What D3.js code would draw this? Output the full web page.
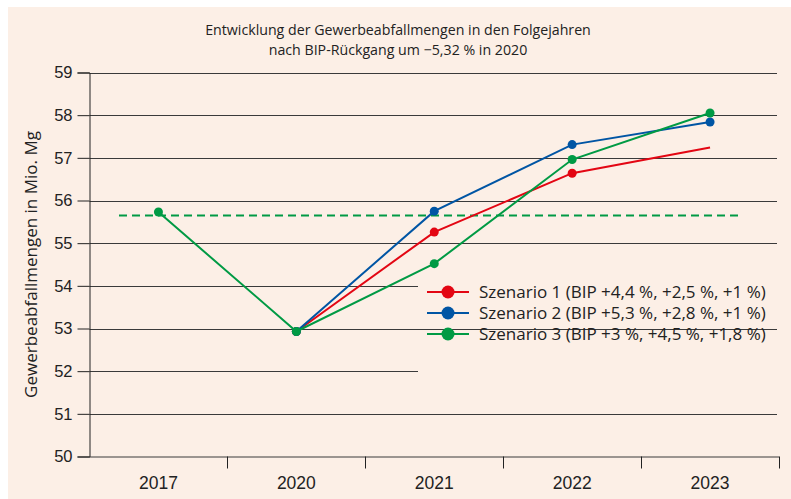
<!DOCTYPE html>
<html>
<head>
<meta charset="utf-8">
<script src="https://cdn.jsdelivr.net/npm/d3@7"></script>
<style>
  body { margin: 0; background: #fff; }
  svg { display: block; font-family: "Open Sans", "Noto Sans", sans-serif; }
</style>
</head>
<body>
<div id="chart"></div>
<script>
// data
const years = ['2017', '2020', '2021', '2022', '2023'];
const yTicks = [50, 51, 52, 53, 54, 55, 56, 57, 58, 59];
const szenario1 = [null, 52.93, 55.26, 56.64, 57.24];
const szenario2 = [null, 52.93, 55.75, 57.31, 57.84];
const szenario3 = [55.73, 52.93, 54.52, 56.96, 58.05];
const baseline = 55.65;
const seriesNames = [
  'Szenario 1 (BIP +4,4 %, +2,5 %, +1 %)',
  'Szenario 2 (BIP +5,3 %, +2,8 %, +1 %)',
  'Szenario 3 (BIP +3 %, +4,5 %, +1,8 %)'
];
const seriesColors = ['#e30613', '#0055a4', '#009a44'];
const seriesMarkers = [[false, true, true, true, false], [false, true, true, true, true], [true, true, true, true, true]];

const width = 791, height = 499;
const plotLeft = 89.5, plotRight = 779, plotTop = 72.5, plotBottom = 456.5;

const svg = d3.select('#chart').append('svg')
  .attr('width', width)
  .attr('height', height);

svg.append('rect')
  .attr('x', 8).attr('y', 7)
  .attr('width', width - 8).attr('height', height - 7)
  .attr('fill', '#fcefe6');

const x = d3.scaleBand().domain(years).range([plotLeft, plotRight]);
const y = d3.scaleLinear().domain([50, 59]).range([plotBottom, plotTop]);

// title
svg.append('text')
  .attr('x', 398).attr('y', 35)
  .attr('text-anchor', 'middle')
  .attr('font-size', 14.2).attr('fill', '#222')
  .text('Entwicklung der Gewerbeabfallmengen in den Folgejahren');
svg.append('text')
  .attr('x', 398).attr('y', 55)
  .attr('text-anchor', 'middle')
  .attr('font-size', 14.2).attr('fill', '#222')
  .text('nach BIP-R\u00fcckgang um \u22125,32 % in 2020');

// gridlines (some shortened where the legend sits)
const shortLines = [52, 54];
svg.append('g').selectAll('line')
  .data(yTicks.filter(d => d > 50))
  .enter().append('line')
  .attr('x1', plotLeft)
  .attr('x2', d => shortLines.includes(d) ? 418 : 777)
  .attr('y1', d => Math.round(y(d)) + 0.5)
  .attr('y2', d => Math.round(y(d)) + 0.5)
  .attr('stroke', '#3a3a3a')
  .attr('stroke-width', 1);

// y axis
const yAxis = svg.append('g')
  .attr('transform', `translate(${plotLeft},0)`)
  .call(d3.axisLeft(y).tickValues(yTicks).tickSize(12).tickPadding(5).tickFormat(d3.format('d')));
yAxis.select('.domain').attr('stroke', '#222');
yAxis.selectAll('.tick line').attr('stroke', '#222');
yAxis.selectAll('text').attr('font-size', 16.5).attr('fill', '#222').attr('font-family', null);

// x axis
const xAxis = svg.append('g')
  .attr('transform', `translate(0,${plotBottom})`)
  .call(d3.axisBottom(x).tickSize(0).tickPadding(20));
xAxis.select('.domain').attr('stroke', '#3a3a3a').attr('d', `M${plotLeft},0.5H${plotRight}`);
xAxis.selectAll('text').attr('font-size', 17.5).attr('fill', '#222').attr('font-family', null);
svg.append('g').selectAll('line')
  .data(years)
  .enter().append('line')
  .attr('x1', d => Math.round(x(d) + x.bandwidth()) + 0.5)
  .attr('x2', d => Math.round(x(d) + x.bandwidth()) + 0.5)
  .attr('y1', plotBottom).attr('y2', plotBottom + 12)
  .attr('stroke', '#222');

// y label
svg.append('text')
  .attr('transform', `translate(37,${(plotTop + plotBottom) / 2}) rotate(-90)`)
  .attr('text-anchor', 'middle')
  .attr('font-size', 17).attr('fill', '#222')
  .text('Gewerbeabfallmengen in Mio. Mg');

// dashed reference line
svg.append('line')
  .attr('x1', 119).attr('x2', 740)
  .attr('y1', y(baseline)).attr('y2', y(baseline))
  .attr('stroke', '#009a44')
  .attr('stroke-width', 2)
  .attr('stroke-dasharray', '8,5');

const cx = d => x(d) + x.bandwidth() / 2;
const line = d3.line()
  .defined(d => d[1] != null)
  .x(d => cx(d[0]))
  .y(d => y(d[1]));

[szenario1, szenario2, szenario3].forEach((vals, k) => {
  const pts = years.map((yr, i) => [yr, vals[i], seriesMarkers[k][i]]);
  svg.append('path')
    .datum(pts)
    .attr('d', line)
    .attr('fill', 'none')
    .attr('stroke', seriesColors[k])
    .attr('stroke-width', 2);
  svg.append('g').selectAll('circle')
    .data(pts.filter(p => p[1] != null && p[2]))
    .enter().append('circle')
    .attr('cx', p => cx(p[0]))
    .attr('cy', p => y(p[1]))
    .attr('r', 4.5)
    .attr('fill', seriesColors[k]);
});

// legend
const legend = svg.append('g');
seriesNames.forEach((name, k) => {
  const ly = 292 + k * 21;
  legend.append('line')
    .attr('x1', 427).attr('x2', 469)
    .attr('y1', ly).attr('y2', ly)
    .attr('stroke', seriesColors[k]).attr('stroke-width', 2);
  legend.append('circle')
    .attr('cx', 448).attr('cy', ly).attr('r', 6.5)
    .attr('fill', seriesColors[k]);
  legend.append('text')
    .attr('x', 479).attr('y', ly + 6)
    .attr('font-size', 17).attr('fill', '#222')
    .text(name);
});
</script>
</body>
</html>
